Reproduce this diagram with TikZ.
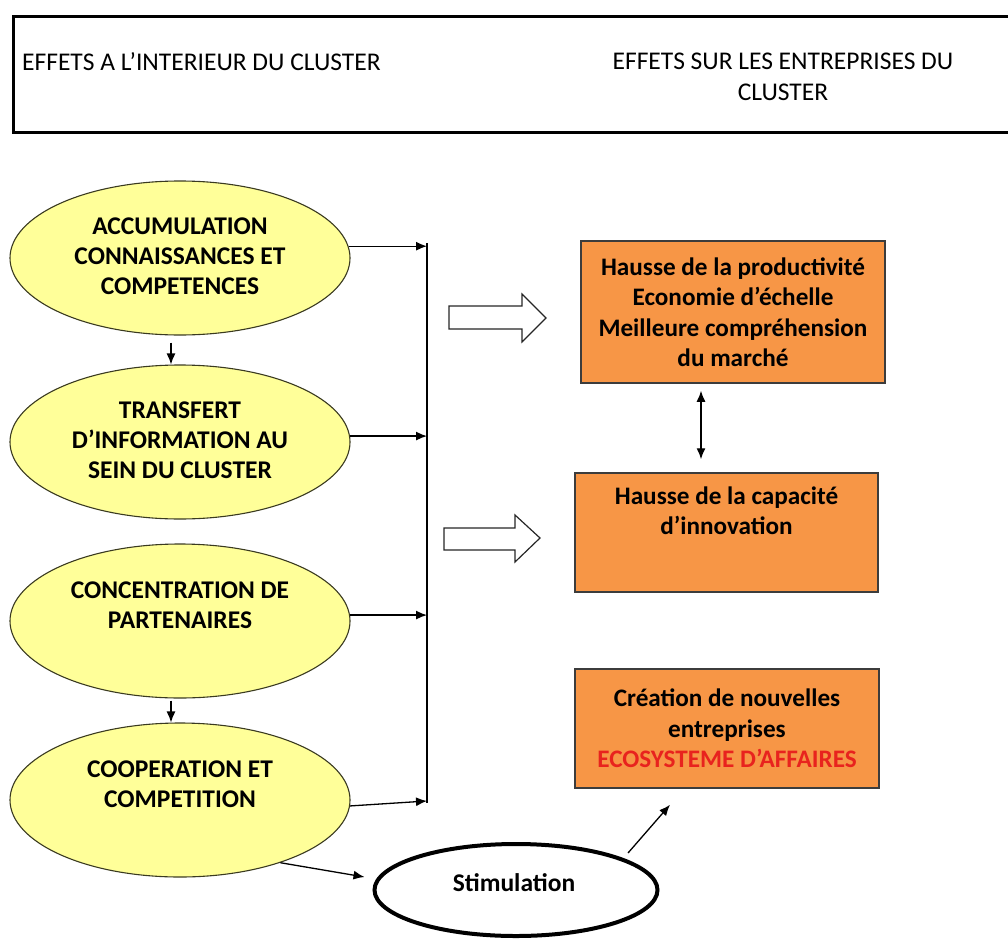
\documentclass[tikz,border=0pt]{standalone}
\usepackage{fontspec}
\setmainfont{Carlito}
\usetikzlibrary{shapes.geometric,arrows.meta,calc}
\definecolor{ellfill}{HTML}{FFFF99}
\definecolor{ellline}{HTML}{3A3A20}
\definecolor{boxfill}{HTML}{F79646}
\definecolor{boxline}{HTML}{3C3C3C}
\definecolor{redtxt}{HTML}{E8231E}
\tikzset{
  ell/.style={ellipse, draw=ellline, line width=1.1pt, fill=ellfill, minimum width=340pt, minimum height=154pt, inner sep=0pt},
  etxt/.style={font=\fontsize{25.5}{30}\selectfont\bfseries, align=center, inner sep=0pt},
  obox/.style={rectangle, draw=boxline, line width=1.5pt, fill=boxfill, inner sep=0pt, align=center, font=\fontsize{25.2}{30.5}\selectfont\bfseries},
  arr/.style={line width=1.3pt, -{Latex[length=11pt,width=9pt]}},
  darr/.style={line width=1.3pt, {Latex[length=11pt,width=9pt]}-{Latex[length=11pt,width=9pt]}},
  blk/.style={draw=black!85, line width=1.2pt, fill=white},
  htxt/.style={font=\fontsize{25.5}{31}\selectfont, inner sep=0pt}
}
\begin{document}
\begin{tikzpicture}[x=1pt,y=-1pt]
\useasboundingbox (0,0) rectangle (1008,939);
\clip (0,0) rectangle (1008,939);
% header
\node[draw, line width=2.8pt, minimum width=1010pt, minimum height=116pt, anchor=north west, inner sep=0pt] (hdr) at (12,15) {};
\node[htxt, anchor=west] (hl) at (22,62) {EFFETS A L’INTERIEUR DU CLUSTER};
\node[htxt, align=center] (hr) at (783,77) {EFFETS SUR LES ENTREPRISES DU\\CLUSTER};
% ellipses
\node[ell] (e1) at (180,258) {};
\node[etxt] (t1) at (180,256) {ACCUMULATION\\CONNAISSANCES ET\\COMPETENCES};
\node[ell] (e2) at (180,442) {};
\node[etxt] (t2) at (180,440) {TRANSFERT\\D’INFORMATION AU\\SEIN DU CLUSTER};
\node[ell] (e3) at (180,621) {};
\node[etxt] (t3) at (180,605) {CONCENTRATION DE\\PARTENAIRES};
\node[ell] (e4) at (180,800) {};
\node[etxt] (t4) at (180,784) {COOPERATION ET\\COMPETITION};
% spine
\coordinate (sTop) at (427,243);
\coordinate (sBot) at (427,803);
\draw[line width=1.3pt] (sTop) -- (sBot);
\draw[arr] (e1.4) -- (e1.4 -| sTop);
\draw[arr] (e2.2) -- (e2.2 -| sTop);
\draw[arr] (e3.2) -- (e3.2 -| sTop);
\draw[arr] (e4.-2) -- ($(sTop|-e4.center)+(0,1)$);
% vertical arrows between ellipses
\draw[arr] ($(e1.south)+(-9,7)$) -- ($(e2.north)+(-9,0)$);
\draw[arr] ($(e3.south)+(-9,2)$) -- ($(e4.north)+(-9,0)$);
% block arrows
\draw[blk] (449,306) -- (522,306) -- (522,294) -- (546,318) -- (522,342) -- (522,329) -- (449,329) -- cycle;
\draw[blk] (444,528) -- (515,528) -- (515,515) -- (540,538) -- (515,562) -- (515,550) -- (444,550) -- cycle;
% boxes
\node[obox, minimum width=304pt, minimum height=142pt] (b1) at (733,312) {Hausse de la productivité\\Economie d’échelle\\Meilleure compréhension\\du marché};
\node[obox, minimum width=303pt, minimum height=119pt] (b2) at (726.5,532.5) {};
\node[etxt, font=\fontsize{25.2}{30}\selectfont\bfseries] (t5) at (726.5,511) {Hausse de la capacité\\d’innovation};
\node[obox, minimum width=304pt, minimum height=119pt] (b3) at (727,728.5) {Création de nouvelles\\entreprises\\\textcolor{redtxt}{ECOSYSTEME D’AFFAIRES}};
\draw[darr] ($(b1.south)+(-32,7)$) -- ($(b2.north)+(-25.5,-13)$);
% stimulation
\node[ellipse, draw, line width=4pt, fill=white, minimum width=283pt, minimum height=92pt, inner sep=0pt] (st) at (516,890) {};
\node[etxt] (st2) at (514,883) {Stimulation};
\draw[arr] (e4.-32.6) -- ($(st.west)+(-8,-13)$);
\draw[arr] ($(st.center)+(112,-37)$) -- ($(b3.south)+(-57,16)$);
\end{tikzpicture}
\end{document}
